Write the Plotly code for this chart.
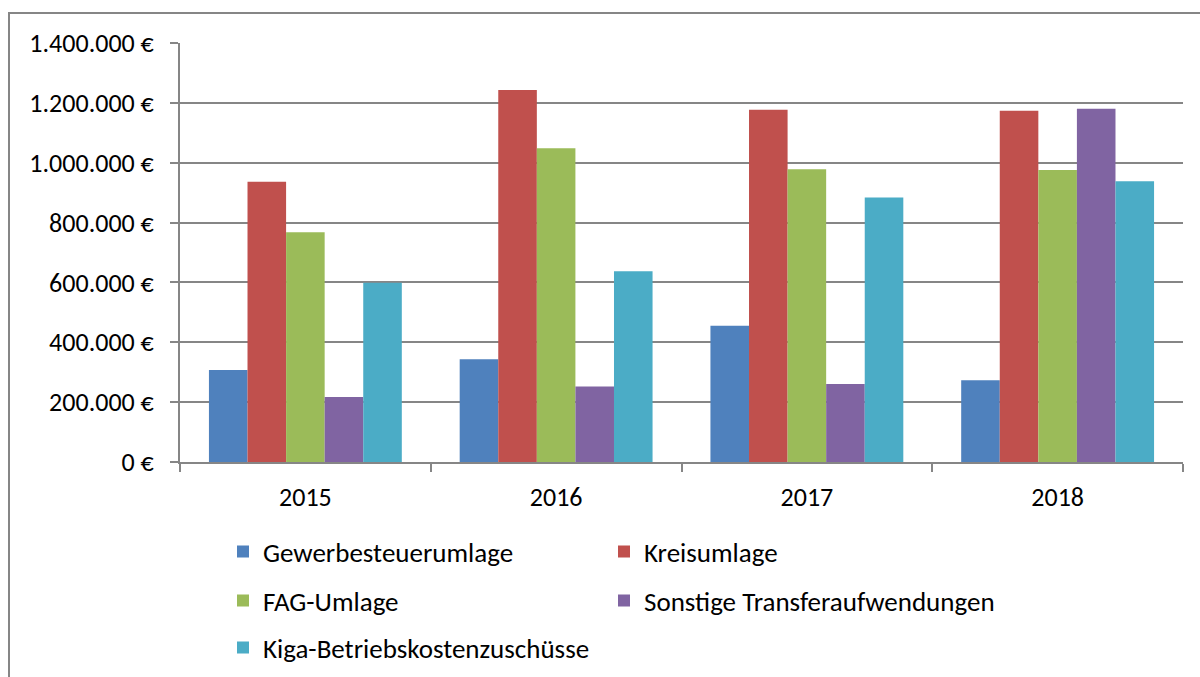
import plotly.graph_objects as go

years = ["2015", "2016", "2017", "2018"]
series_names = [
    "Gewerbesteuerumlage",
    "Kreisumlage",
    "FAG-Umlage",
    "Sonstige Transferaufwendungen",
    "Kiga-Betriebskostenzuschüsse",
]
gewerbe = [307000, 343000, 455000, 273000]
kreis = [936000, 1243000, 1177000, 1174000]
fag = [768000, 1048000, 978000, 976000]
sonstige = [217000, 252000, 261000, 1180000]
kiga = [599000, 637000, 884000, 938000]

y_tickvals = [0, 200000, 400000, 600000, 800000, 1000000, 1200000, 1400000]
y_ticktext = ["0 €", "200.000 €", "400.000 €", "600.000 €", "800.000 €",
              "1.000.000 €", "1.200.000 €", "1.400.000 €"]

colors = ["#4F81BD", "#C0504D", "#9BBB59", "#8064A2", "#4BACC6"]
values = [gewerbe, kreis, fag, sonstige, kiga]
legend_ids = ["legend", "legend2", "legend3", "legend4", "legend5"]

FONT = "Calibri, Carlito, Lato, sans-serif"
TICK_SIZE = 26
LEG_SIZE = 27

fig = go.Figure()
for name, vals, col, lg in zip(series_names, values, colors, legend_ids):
    fig.add_trace(go.Bar(
        x=years, y=vals, name=name, legend=lg,
        marker=dict(color=col, line=dict(width=0)),
    ))

W, H = 1200, 677
L, R, T, B = 180, 17, 43, 215
pw = W - L - R
ph = H - T - B

def px_x(x):
    return (x - L) / pw

def px_y(y):
    return (H - B - y) / ph

leg_common = dict(
    orientation="h", xanchor="left", yanchor="middle",
    font=dict(family=FONT, size=LEG_SIZE, color="#000000"),
    bgcolor="rgba(0,0,0,0)", itemwidth=30,
)

col1, col2 = 223, 604
row1, row2, row3 = 552, 601, 648

fig.update_layout(
    width=W, height=H,
    margin=dict(l=L, r=R, t=T, b=B, pad=0, autoexpand=False),
    paper_bgcolor="white", plot_bgcolor="white",
    barmode="group", bargap=0.2308, bargroupgap=0,
    font=dict(family=FONT, size=TICK_SIZE, color="#000000"),
    showlegend=True,
    legend=dict(x=px_x(col1), y=px_y(row1), **leg_common),
    legend2=dict(x=px_x(col2), y=px_y(row1), **leg_common),
    legend3=dict(x=px_x(col1), y=px_y(row2), **leg_common),
    legend4=dict(x=px_x(col2), y=px_y(row2), **leg_common),
    legend5=dict(x=px_x(col1), y=px_y(row3), **leg_common),
    xaxis=dict(
        type="category", showline=True, linecolor="#868686", linewidth=2,
        ticks="outside", tickson="boundaries", ticklen=8, tickwidth=2,
        tickcolor="#868686", showgrid=False, automargin=False,
        tickfont=dict(family=FONT, size=TICK_SIZE, color="#000000"),
        ticklabelstandoff=11,
    ),
    yaxis=dict(
        range=[0, 1400000], tickvals=y_tickvals, ticktext=y_ticktext,
        showline=True, linecolor="#868686", linewidth=2,
        ticks="outside", ticklen=8, tickwidth=2, tickcolor="#868686",
        showgrid=True, gridcolor="#868686", gridwidth=2,
        zeroline=False, automargin=False,
        tickfont=dict(family=FONT, size=TICK_SIZE, color="#000000"),
        ticklabelstandoff=11,
    ),
    shapes=[dict(
        type="rect", xref="paper", yref="paper",
        x0=px_x(9), x1=px_x(1230), y0=px_y(13), y1=px_y(700),
        line=dict(color="#868686", width=2), fillcolor="rgba(0,0,0,0)",
        layer="below",
    )],
)

fig.write_html("out.html", config={"displayModeBar": False})

with open("out.html", "r", encoding="utf-8") as f:
    html = f.read()
html = html.replace(
    "<head>",
    "<head><style>html,body{margin:0;padding:0;overflow:hidden;}</style>",
    1,
)
with open("out.html", "w", encoding="utf-8") as f:
    f.write(html)
